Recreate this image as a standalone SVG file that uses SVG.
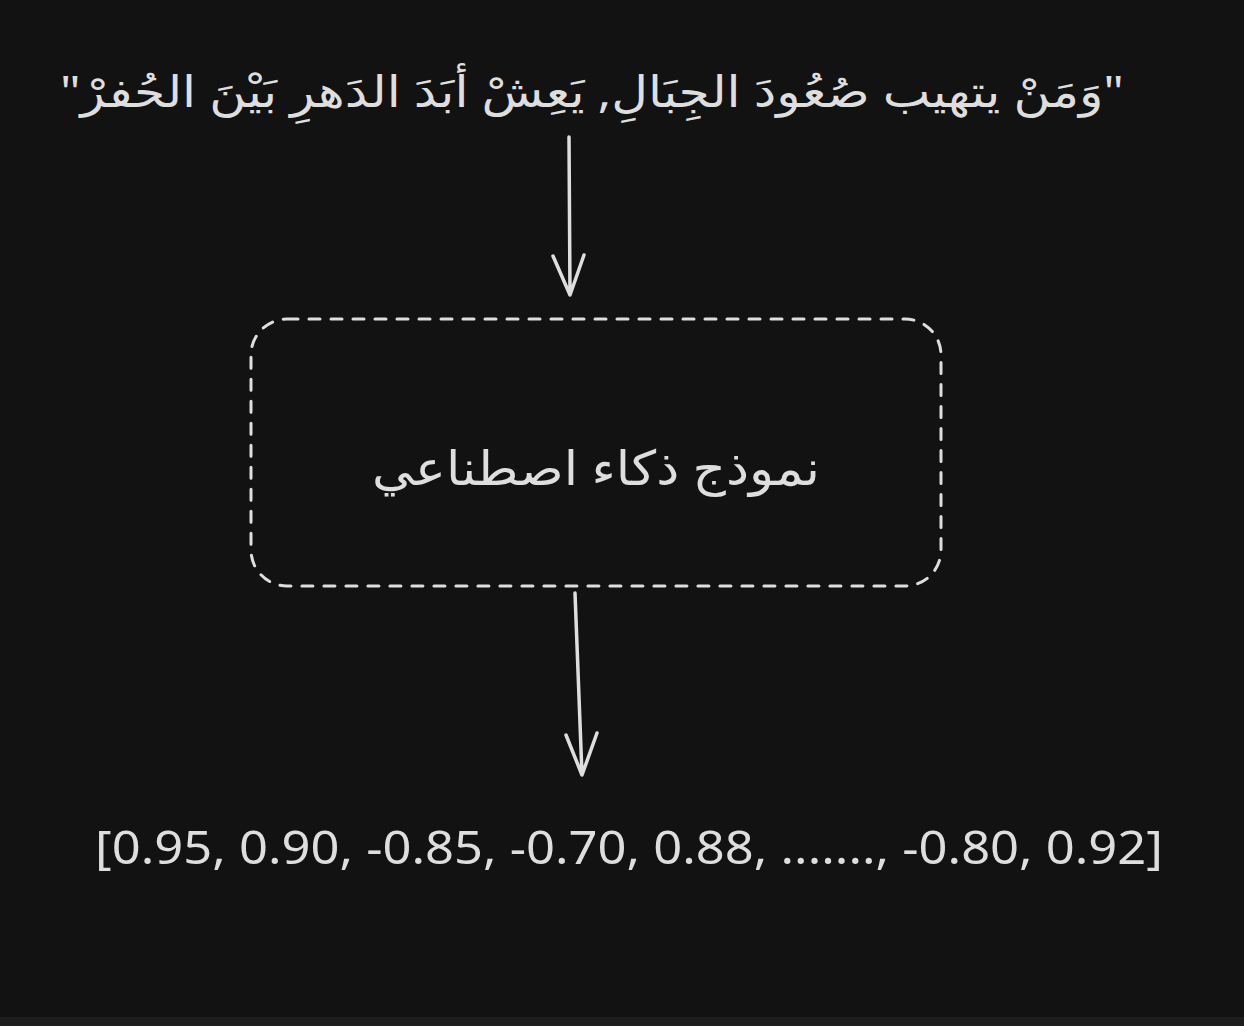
<svg xmlns="http://www.w3.org/2000/svg" width="1244" height="1026" viewBox="0 0 1244 1026">
<style>
.t{fill:#dedede;font-family:"Noto Sans","DejaVu Sans",sans-serif;}
.ln{fill:none;stroke:#dedede;stroke-width:3.5;stroke-linecap:round;stroke-linejoin:round;}
</style>
<rect x="0" y="0" width="1244" height="1026" fill="#121212"/>
<rect x="0" y="1017" width="1244" height="9" fill="#1e1e1e"/>
<g id="input">
<text class="t" x="592" y="107" font-size="44" text-anchor="middle" direction="rtl" textLength="1064" lengthAdjust="spacingAndGlyphs">"وَمَنْ يتهيب صُعُودَ الجِبَالِ, يَعِشْ أبَدَ الدَهرِ بَيْنَ الحُفرْ"</text>
</g>
<g id="model">
<rect x="251" y="319" width="690" height="267" rx="36" ry="36" fill="none" stroke="#dedede" stroke-width="3" stroke-dasharray="11 11" stroke-linecap="round"/>
<text class="t" x="596" y="485" font-size="48" text-anchor="middle" direction="rtl" textLength="448" lengthAdjust="spacingAndGlyphs">نموذج ذكاء اصطناعي</text>
</g>
<g id="output">
<text class="t" x="629" y="864" font-size="46" text-anchor="middle" font-family="Roboto Condensed, Roboto, sans-serif" textLength="1068" lengthAdjust="spacingAndGlyphs">[0.95, 0.90, -0.85, -0.70, 0.88, ......., -0.80, 0.92]</text>
</g>
<g id="connectors">
<path class="ln" d="M569 137 L570 295 M553 256 L570 295 L584 255"/>
<path class="ln" d="M575 593 L582 775 M566 735 L582 775 L597 733"/>
</g>
</svg>
